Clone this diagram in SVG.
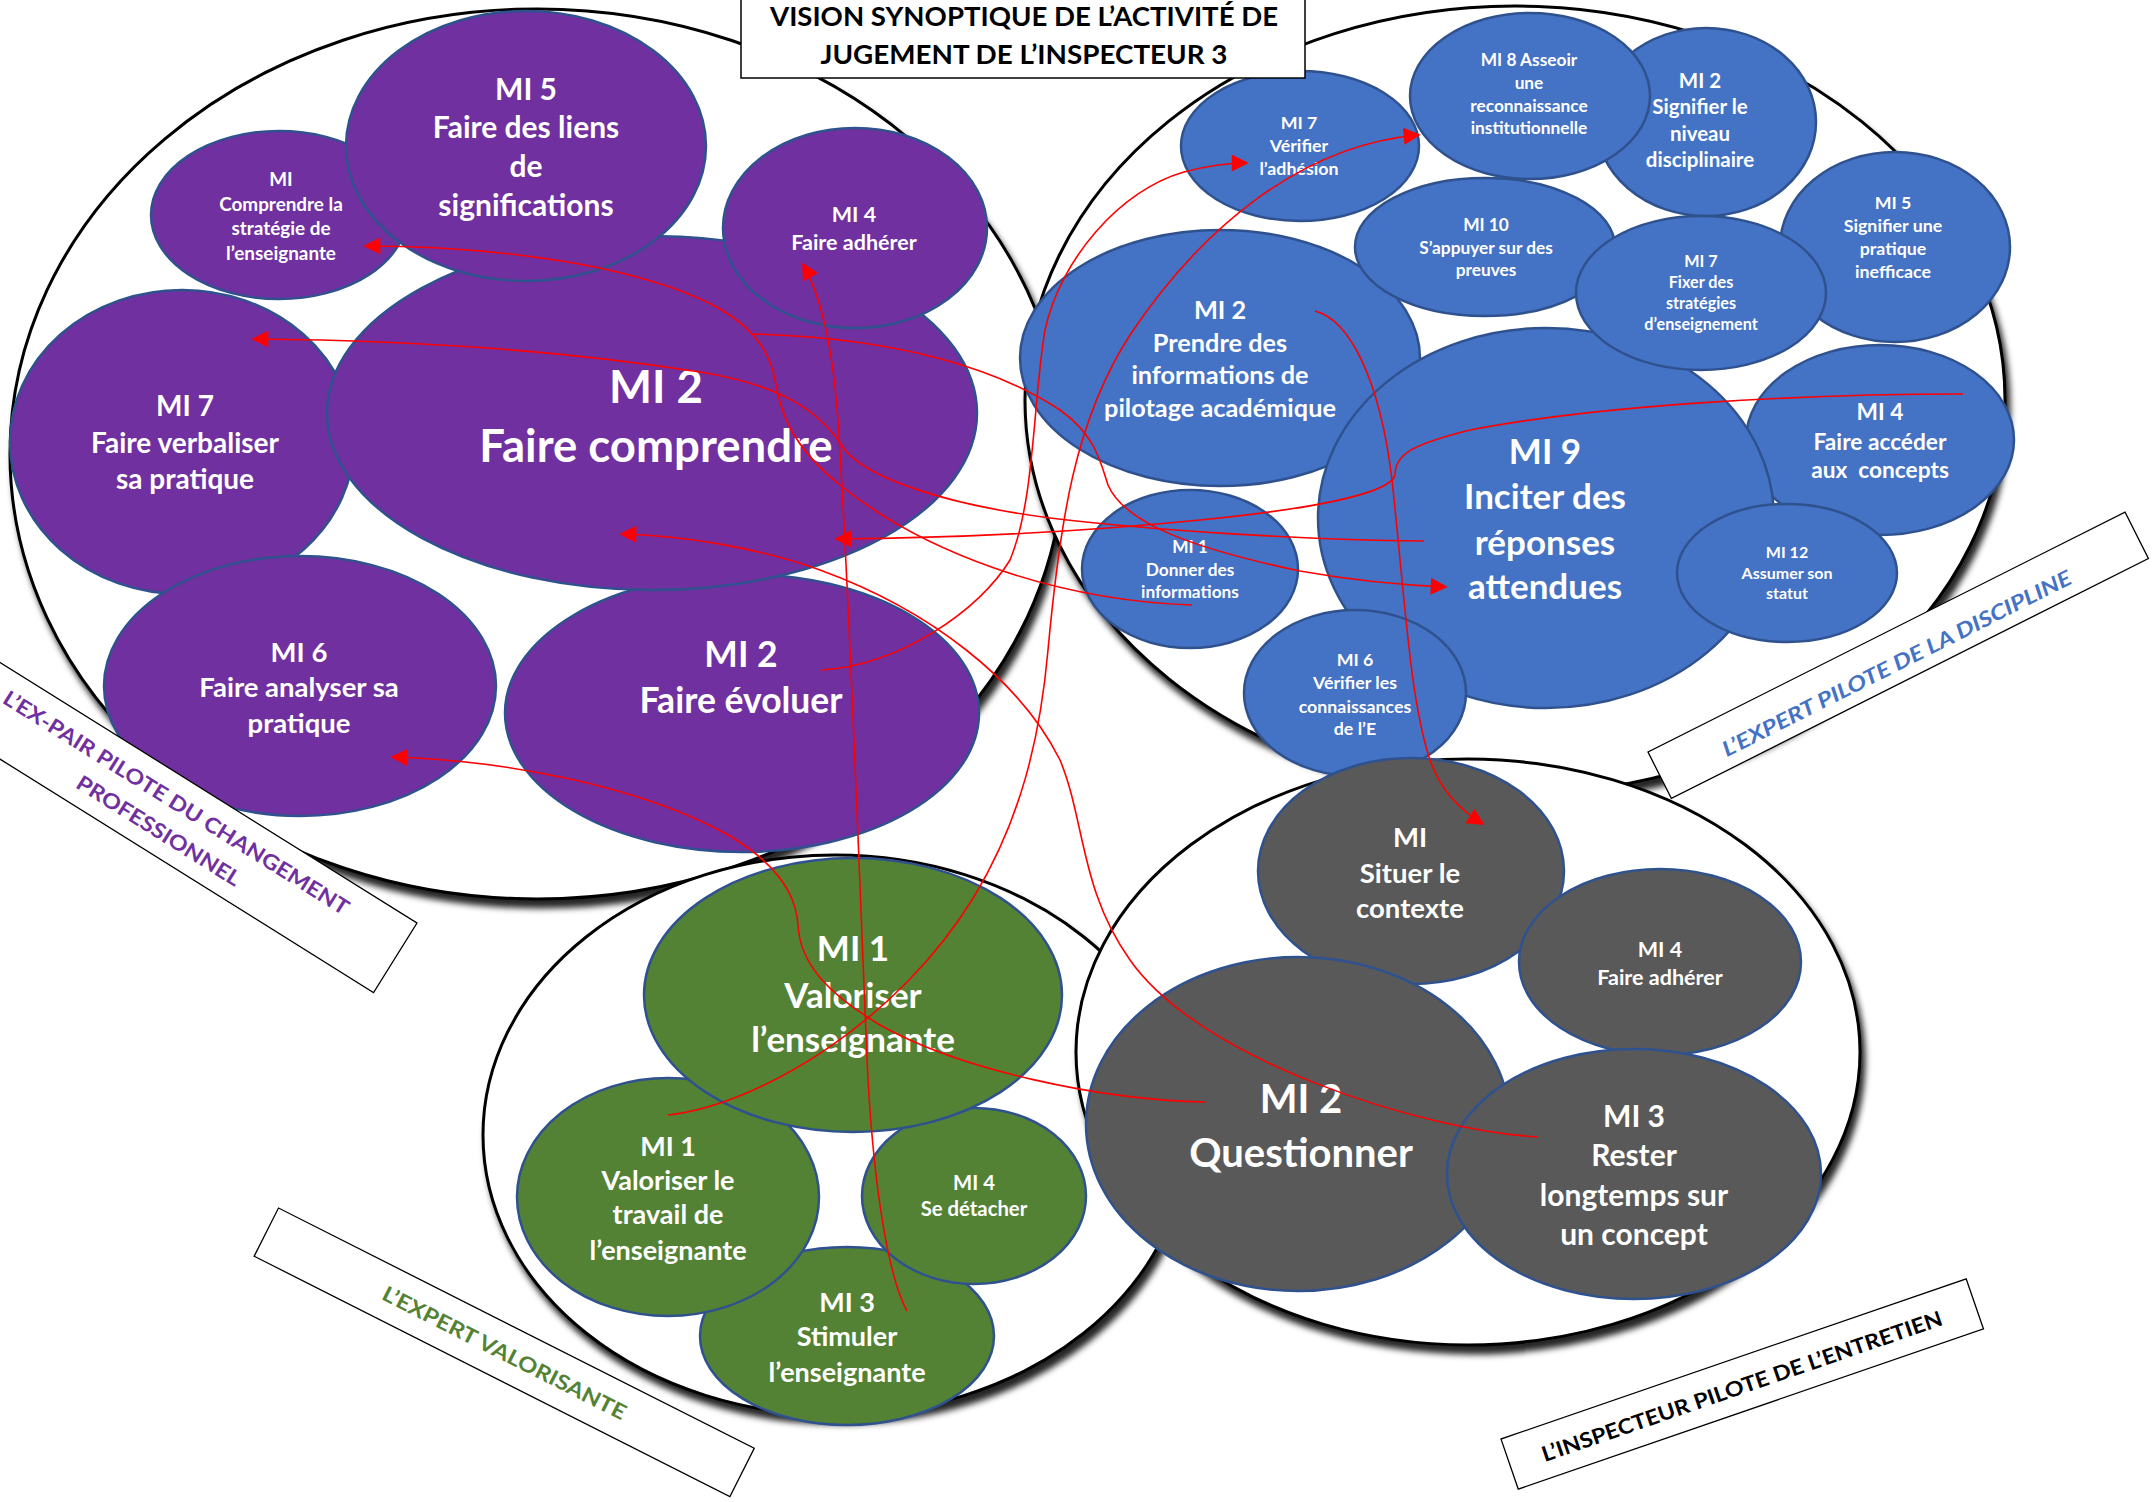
<svg xmlns="http://www.w3.org/2000/svg" width="2153" height="1502" viewBox="0 0 2153 1502">
<style>
.cont{fill:#fff;stroke:#000;stroke-width:3;filter:url(#sh)}
.p{fill:#7030A0;stroke:#2F528F;stroke-width:2.5}
.b{fill:#4472C4;stroke:#2F528F;stroke-width:2.5}
.g{fill:#548235;stroke:#2F528F;stroke-width:2.5}
.k{fill:#595959;stroke:#2F528F;stroke-width:2.5}
text{font-family:Lato,"Open Sans","Liberation Sans",sans-serif;font-weight:bold}
.t{fill:#fff;text-anchor:middle}
.con{fill:none;stroke:#FF0000;stroke-width:1.6;marker-end:url(#ar)}
.lbl{fill:#fff;stroke:#000;stroke-width:1.3}
</style>
<defs>
<filter id="sh" x="-5%" y="-5%" width="115%" height="115%">
<feDropShadow dx="4" dy="8" stdDeviation="3" flood-color="#000" flood-opacity="0.85"/>
</filter>
<marker id="ar" viewBox="0 0 10 10" refX="9" refY="5" markerWidth="22" markerHeight="17" markerUnits="userSpaceOnUse" orient="auto">
<path d="M0,0 L10,5 L0,10 z" fill="#FF0000"/>
</marker>
</defs>

<g id="purple-group">
<ellipse class="cont" cx="537" cy="454" rx="527" ry="445"/>
<g id="p-mi7"><ellipse class="p" cx="182" cy="442" rx="172" ry="152"/>
<text class="t" font-size="28" x="185" y="416">MI 7</text><text class="t" font-size="28" x="185" y="453">Faire verbaliser</text><text class="t" font-size="28" x="185" y="489">sa pratique</text></g>
<g id="p-mi6"><ellipse class="p" cx="300" cy="686" rx="196" ry="130"/>
<text class="t" font-size="27.5" x="299" y="662">MI 6</text><text class="t" font-size="27.5" x="299" y="697">Faire analyser sa</text><text class="t" font-size="27.5" x="299" y="733">pratique</text></g>
<g id="p-mi2-evoluer"><ellipse class="p" cx="742" cy="713" rx="237" ry="139"/>
<text class="t" font-size="35.5" x="741" y="667">MI 2</text><text class="t" font-size="35.5" x="741" y="713">Faire évoluer</text></g>
<g id="p-mi-comprendre"><ellipse class="p" cx="279" cy="215" rx="128" ry="84"/>
<text class="t" font-size="18.9" x="281" y="186">MI</text><text class="t" font-size="18.9" x="281" y="211">Comprendre la</text><text class="t" font-size="18.9" x="281" y="235">stratégie de</text><text class="t" font-size="18.9" x="281" y="260">l’enseignante</text></g>
<g id="p-mi2-comprendre"><ellipse class="p" cx="652" cy="413" rx="325" ry="177"/>
<text class="t" font-size="45.5" x="656" y="403">MI 2</text><text class="t" font-size="45.5" x="656" y="462">Faire comprendre</text></g>
<g id="p-mi5"><ellipse class="p" cx="526" cy="146" rx="180" ry="135"/>
<text class="t" font-size="30" x="526" y="100">MI 5</text><text class="t" font-size="30" x="526" y="138">Faire des liens</text><text class="t" font-size="30" x="526" y="177">de</text><text class="t" font-size="30" x="526" y="216">significations</text></g>
<g id="p-mi4"><ellipse class="p" cx="855" cy="228" rx="132" ry="100"/>
<text class="t" font-size="21.5" x="854" y="222">MI 4</text><text class="t" font-size="21.5" x="854" y="250">Faire adhérer</text></g>
</g>

<g id="blue-group">
<ellipse class="cont" cx="1515" cy="400" rx="490" ry="394"/>
<g id="b-mi2-prendre"><ellipse class="b" cx="1220" cy="358" rx="200" ry="128"/>
<text class="t" font-size="25.3" x="1220" y="319">MI 2</text><text class="t" font-size="25.3" x="1220" y="352">Prendre des</text><text class="t" font-size="25.3" x="1220" y="384">informations de</text><text class="t" font-size="25.3" x="1220" y="417">pilotage académique</text></g>
<g id="b-mi10"><ellipse class="b" cx="1485" cy="247" rx="130" ry="69"/>
<text class="t" font-size="17.3" x="1486" y="231">MI 10</text><text class="t" font-size="17.3" x="1486" y="254">S’appuyer sur des</text><text class="t" font-size="17.3" x="1486" y="276">preuves</text></g>
<g id="b-mi5"><ellipse class="b" cx="1895" cy="247" rx="115" ry="95"/>
<text class="t" font-size="17.8" x="1893" y="209">MI 5</text><text class="t" font-size="17.8" x="1893" y="232">Signifier une</text><text class="t" font-size="17.8" x="1893" y="255">pratique</text><text class="t" font-size="17.8" x="1893" y="278">inefficace</text></g>
<g id="b-mi2-signifier"><ellipse class="b" cx="1706" cy="122" rx="110" ry="94"/>
<text class="t" font-size="20.5" x="1700" y="88">MI 2</text><text class="t" font-size="20.5" x="1700" y="114">Signifier le</text><text class="t" font-size="20.5" x="1700" y="141">niveau</text><text class="t" font-size="20.5" x="1700" y="167">disciplinaire</text></g>
<g id="b-mi7-verifier"><ellipse class="b" cx="1300" cy="146" rx="119" ry="75"/>
<text class="t" font-size="17.8" x="1299" y="129">MI 7</text><text class="t" font-size="17.8" x="1299" y="152">Vérifier</text><text class="t" font-size="17.8" x="1299" y="175">l’adhésion</text></g>
<g id="b-mi8"><ellipse class="b" cx="1530" cy="96" rx="120" ry="83"/>
<text class="t" font-size="17.3" x="1529" y="66">MI 8 Asseoir</text><text class="t" font-size="17.3" x="1529" y="89">une</text><text class="t" font-size="17.3" x="1529" y="112">reconnaissance</text><text class="t" font-size="17.3" x="1529" y="134">institutionnelle</text></g>
<g id="b-mi4"><ellipse class="b" cx="1880" cy="440" rx="134" ry="95"/>
<text class="t" font-size="22.7" x="1880" y="420">MI 4</text><text class="t" font-size="22.7" x="1880" y="450">Faire accéder</text><text class="t" font-size="22.7" x="1880" y="478">aux&#160; concepts</text></g>
<g id="b-mi9"><ellipse class="b" cx="1546" cy="518" rx="228" ry="190"/>
<text class="t" font-size="35" x="1545" y="464">MI 9</text><text class="t" font-size="35" x="1545" y="509">Inciter des</text><text class="t" font-size="35" x="1545" y="555">réponses</text><text class="t" font-size="35" x="1545" y="599">attendues</text></g>
<g id="b-mi7-fixer"><ellipse class="b" cx="1701" cy="293" rx="125" ry="77"/>
<text class="t" font-size="16.2" x="1701" y="267">MI 7</text><text class="t" font-size="16.2" x="1701" y="288">Fixer des</text><text class="t" font-size="16.2" x="1701" y="309">stratégies</text><text class="t" font-size="16.2" x="1701" y="330">d’enseignement</text></g>
<g id="b-mi12"><ellipse class="b" cx="1787" cy="573" rx="110" ry="69"/>
<text class="t" font-size="16" x="1787" y="558">MI 12</text><text class="t" font-size="16" x="1787" y="579">Assumer son</text><text class="t" font-size="16" x="1787" y="599">statut</text></g>
<g id="b-mi1"><ellipse class="b" cx="1190" cy="569" rx="108" ry="79"/>
<text class="t" font-size="17.3" x="1190" y="553">MI 1</text><text class="t" font-size="17.3" x="1190" y="576">Donner des</text><text class="t" font-size="17.3" x="1190" y="598">informations</text></g>
<g id="b-mi6"><ellipse class="b" cx="1355" cy="693" rx="111" ry="83"/>
<text class="t" font-size="17.8" x="1355" y="666">MI 6</text><text class="t" font-size="17.8" x="1355" y="689">Vérifier les</text><text class="t" font-size="17.8" x="1355" y="713">connaissances</text><text class="t" font-size="17.8" x="1355" y="735">de l’E</text></g>
</g>

<g id="green-group">
<ellipse class="cont" cx="835" cy="1135" rx="352" ry="280"/>
<g id="g-mi3"><ellipse class="g" cx="847" cy="1336" rx="147" ry="89"/>
<text class="t" font-size="27" x="847" y="1312">MI 3</text><text class="t" font-size="27" x="847" y="1346">Stimuler</text><text class="t" font-size="27" x="847" y="1382">l’enseignante</text></g>
<g id="g-mi1-travail"><ellipse class="g" cx="668" cy="1197" rx="151" ry="119"/>
<text class="t" font-size="27" x="668" y="1156">MI 1</text><text class="t" font-size="27" x="668" y="1190">Valoriser le</text><text class="t" font-size="27" x="668" y="1224">travail de</text><text class="t" font-size="27" x="668" y="1260">l’enseignante</text></g>
<g id="g-mi4"><ellipse class="g" cx="974" cy="1196" rx="112" ry="88"/>
<text class="t" font-size="20.3" x="974" y="1190">MI 4</text><text class="t" font-size="20.3" x="974" y="1216">Se détacher</text></g>
<g id="g-mi1-valoriser"><ellipse class="g" cx="853" cy="995" rx="209" ry="137"/>
<text class="t" font-size="35" x="853" y="961">MI 1</text><text class="t" font-size="35" x="853" y="1008">Valoriser</text><text class="t" font-size="35" x="853" y="1052">l’enseignante</text></g>
</g>

<g id="grey-group">
<ellipse class="cont" cx="1468" cy="1052" rx="392" ry="293"/>
<g id="k-situer"><ellipse class="k" cx="1411" cy="871" rx="153" ry="113"/>
<text class="t" font-size="27.5" x="1410" y="847">MI</text><text class="t" font-size="27.5" x="1410" y="883">Situer le</text><text class="t" font-size="27.5" x="1410" y="918">contexte</text></g>
<g id="k-mi4"><ellipse class="k" cx="1660" cy="962" rx="141" ry="93"/>
<text class="t" font-size="21.5" x="1660" y="957">MI 4</text><text class="t" font-size="21.5" x="1660" y="985">Faire adhérer</text></g>
<g id="k-questionner"><ellipse class="k" cx="1298" cy="1124" rx="212" ry="167"/>
<text class="t" font-size="40" x="1301" y="1113">MI 2</text><text class="t" font-size="40" x="1301" y="1167">Questionner</text></g>
<g id="k-rester"><ellipse class="k" cx="1634" cy="1174" rx="187" ry="125"/>
<text class="t" font-size="30" x="1634" y="1127">MI 3</text><text class="t" font-size="30" x="1634" y="1166">Rester</text><text class="t" font-size="30" x="1634" y="1206">longtemps sur</text><text class="t" font-size="30" x="1634" y="1245">un concept</text></g>
</g>

<g id="connectors">
<path class="con" d="M1538,1137 C1420,1130 1200,1060 1130,960 C1080,890 1085,820 1060,760 C1020,680 930,610 820,570 C760,548 680,535 621,534"/>
<path class="con" d="M1206,1102 C1100,1100 960,1070 880,1025 C830,995 800,965 798,925 C796,890 770,860 730,836 C640,785 500,760 392,757"/>
<path class="con" d="M668,1115 C760,1105 900,1020 975,895 C1020,820 1040,740 1048,650 C1060,520 1075,420 1130,335 C1200,230 1300,145 1419,135"/>
<path class="con" d="M907,1311 C890,1280 875,1200 868,1080 C860,900 850,600 838,420 C832,340 820,295 803,264"/>
<path class="con" d="M1315,311 C1350,320 1380,380 1392,480 C1405,600 1410,700 1430,760 C1440,790 1460,810 1483,824"/>
<path class="con" d="M1192,605 C1050,600 920,550 840,485 C790,445 780,410 775,380 C765,320 700,290 600,268 C520,252 440,246 365,246"/>
<path class="con" d="M754,334 C900,338 1000,370 1060,410 C1095,435 1100,460 1108,485 C1125,525 1200,550 1300,571 C1350,580 1400,585 1446,587"/>
<path class="con" d="M1424,541 C1300,540 1150,530 1050,518 C950,505 870,480 845,450 C820,410 780,385 700,372 C560,350 400,340 253,339"/>
<path class="con" d="M1963,394 C1800,394 1600,405 1470,430 C1410,445 1395,455 1395,475 C1390,495 1300,510 1200,520 C1080,532 950,538 836,539"/>
<path class="con" d="M822,670 C900,665 980,610 1010,560 C1035,500 1033,400 1045,330 C1060,260 1120,190 1184,172 C1210,165 1230,163 1247,163"/>
</g>

<g id="label-purple" transform="translate(417,923) rotate(32)">
<rect class="lbl" x="-560" y="0" width="560" height="82"/>
<text x="-268" y="33" font-size="21" fill="#7030A0" text-anchor="middle" textLength="403" lengthAdjust="spacingAndGlyphs">L’EX-PAIR PILOTE DU CHANGEMENT</text>
<text x="-268" y="66" font-size="21" fill="#7030A0" text-anchor="middle" textLength="189" lengthAdjust="spacingAndGlyphs">PROFESSIONNEL</text>
</g>
<g id="label-blue" transform="translate(1648,752) rotate(-26.7)">
<rect class="lbl" x="0" y="0" width="534" height="52"/>
<text x="262" y="40" font-size="21" font-style="italic" fill="#4472C4" text-anchor="middle" textLength="388" lengthAdjust="spacingAndGlyphs">L’EXPERT PILOTE DE LA DISCIPLINE</text>
</g>
<g id="label-green" transform="translate(278.5,1208) rotate(26.8)">
<rect class="lbl" x="0" y="0" width="533" height="54"/>
<text x="267" y="35" font-size="21" fill="#548235" text-anchor="middle" textLength="270" lengthAdjust="spacingAndGlyphs">L’EXPERT VALORISANTE</text>
</g>
<g id="label-black" transform="translate(1501,1439) rotate(-19)">
<rect class="lbl" x="0" y="0" width="492" height="53"/>
<text x="245" y="36" font-size="21" font-weight="normal" fill="#000" text-anchor="middle" textLength="422" lengthAdjust="spacingAndGlyphs">L’INSPECTEUR PILOTE DE L’ENTRETIEN</text>
</g>

<g id="title">
<rect x="741" y="-2" width="564" height="80" fill="#fff" stroke="#000" stroke-width="1.5"/>
<text x="1024" y="26" font-size="26" fill="#000" text-anchor="middle" textLength="508" lengthAdjust="spacingAndGlyphs">VISION SYNOPTIQUE DE L’ACTIVITÉ DE</text>
<text x="1024" y="64" font-size="26" fill="#000" text-anchor="middle" textLength="407" lengthAdjust="spacingAndGlyphs">JUGEMENT DE L’INSPECTEUR 3</text>
</g>
</svg>
